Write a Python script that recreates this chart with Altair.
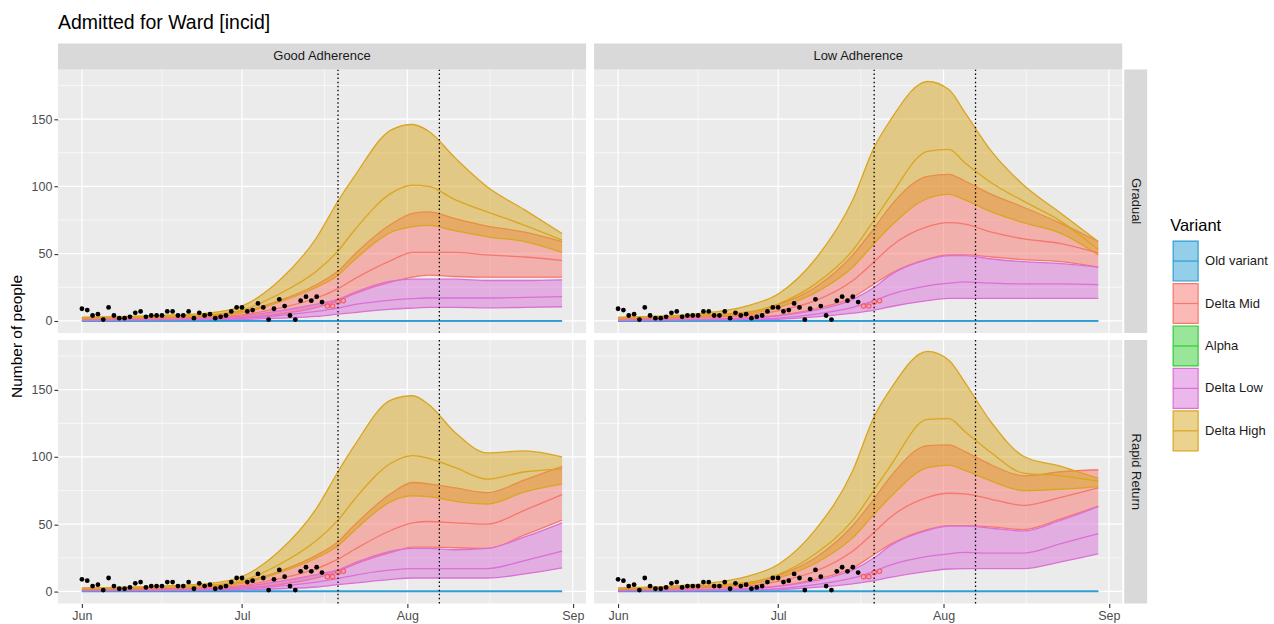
import altair as alt
import pandas as pd

TITLE = "Admitted for Ward [incid]"
Y_TITLE = "Number of people"
LEGEND_TITLE = "Variant"
ADHERENCE = ["Good Adherence", "Low Adherence"]
ROLLOUT = ["Gradual", "Rapid Return"]
VARIANTS = ["Old variant", "Delta Mid", "Alpha", "Delta Low", "Delta High"]
VARIANT_COLORS = ["#2C9ED4", "#F8766D", "#33CC33", "#DA70D6", "#DAA520"]

MODEL_DATES = ["2021-06-01", "2021-06-15", "2021-06-25", "2021-07-01", "2021-07-08",
               "2021-07-15", "2021-07-19", "2021-07-22", "2021-07-29", "2021-08-02",
               "2021-08-05", "2021-08-10", "2021-08-16", "2021-08-23", "2021-08-30"]

OLD_VARIANT = [0, 0, 0, 0, 0, 0, 0, 0, 0, 0, 0, 0, 0, 0, 0]

# Good Adherence / Gradual
GG_HIGH_LO = [1.5, 2.5, 3.5, 6, 14, 25, 34, 45, 66, 70, 71, 67, 62.5, 59, 51]
GG_HIGH_MED = [2, 3, 4.5, 8, 20, 37, 52, 67, 95, 101, 100, 90, 81, 71, 60]
GG_HIGH_UP = [2.5, 4, 6, 11, 30, 62, 89, 107, 142, 146, 141, 121, 99.5, 82.5, 65]
GG_MID_LO = [0.5, 1, 1.5, 2.5, 5, 10, 15, 20, 29, 32.5, 34, 33, 32.5, 32.5, 32.5]
GG_MID_MED = [1.5, 2, 3, 4.5, 9.5, 17, 24, 31, 45, 51, 51, 51, 49, 47.5, 45]
GG_MID_UP = [2.5, 3, 4.5, 7, 15, 27, 37, 49, 72, 80, 81, 76, 70.5, 66, 59]
GG_LOW_LO = [0.2, 0.3, 0.6, 1, 2, 3.3, 5, 6.2, 8.7, 9.5, 10, 10, 9.7, 10, 10.5]
GG_LOW_MED = [0.4, 0.7, 1.1, 1.8, 4, 7, 9.5, 12, 15.5, 16.5, 17, 17, 17, 17.5, 18]
GG_LOW_UP = [0.8, 1.2, 2.2, 3.5, 7.5, 12.5, 16, 21, 29.5, 31, 31, 31, 30, 30, 30.5]

# Low Adherence / Gradual
LG_HIGH_LO = [1.5, 3, 5, 10, 21, 40, 57.5, 70, 91, 94, 90, 81, 73, 65, 49]
LG_HIGH_MED = [2, 3.5, 6, 12.5, 27.5, 52.5, 75, 92.5, 126, 127.5, 117.5, 102.5, 89, 74, 53]
LG_HIGH_UP = [2.5, 5, 11, 20, 46, 90, 129, 149, 178, 172, 155, 126, 101, 80, 59]
LG_MID_LO = [0.5, 1, 2.2, 4, 9, 17.5, 27.5, 35, 46, 49, 49, 47.5, 45.5, 44, 40]
LG_MID_MED = [1.5, 2.5, 4, 7.5, 15, 30, 44, 55, 70, 73, 72, 66, 61, 57.5, 50.5]
LG_MID_UP = [2.5, 4, 6.5, 12, 25, 49, 69, 85, 107.5, 109, 104, 94, 84.5, 72.5, 59]
LG_LOW_LO = [0.2, 0.3, 0.7, 1.2, 3, 5.7, 8, 10.5, 15, 16.7, 16.7, 16.7, 16.7, 16.7, 16.7]
LG_LOW_MED = [0.4, 0.7, 1.1, 2, 5, 10, 15, 19.5, 26, 28, 29, 28, 27.5, 27.5, 27]
LG_LOW_UP = [0.8, 1.2, 2, 3.7, 8, 16, 25, 34, 45.5, 48.5, 48.5, 46, 44, 42.5, 40]

# Good Adherence / Rapid Return
GR_HIGH_LO = [1.5, 2.5, 3.5, 6, 14, 25, 34, 45, 67, 71, 70.5, 67, 65, 74, 80]
GR_HIGH_MED = [2, 3, 4.5, 8, 20, 38, 53, 68, 95.5, 101, 99, 92, 83.5, 89, 91]
GR_HIGH_UP = [2.5, 4, 6, 11, 30, 62, 89, 108, 142.5, 145.5, 139, 118, 103, 104.5, 100]
GR_MID_LO = [0.5, 1, 1.5, 2.5, 5, 10, 15, 20, 29, 33, 33, 32.5, 32, 42, 53]
GR_MID_MED = [1.5, 2, 3, 4.5, 9.5, 17, 24, 31, 45.5, 51, 52, 51, 50, 60.5, 72]
GR_MID_UP = [2.5, 3, 4.5, 7, 15, 27, 37, 49, 73, 81, 80, 77, 73.5, 83, 93]
GR_LOW_LO = [0.2, 0.3, 0.6, 1, 2, 3.3, 5, 6.2, 9, 10, 10, 10, 10, 13, 17.5]
GR_LOW_MED = [0.4, 0.7, 1.1, 1.8, 4, 7, 9.5, 12, 16, 17, 17, 17, 17, 23, 30]
GR_LOW_UP = [0.8, 1.2, 2.2, 3.5, 7.5, 12.5, 16, 21, 30, 32, 32, 31, 32, 40.5, 51]

# Low Adherence / Rapid Return
LR_HIGH_LO = [1.5, 3, 5, 10, 21, 40, 57.5, 70, 92, 94, 90, 82, 75, 76, 78]
LR_HIGH_MED = [2, 3.5, 6, 12.5, 28, 53, 75.5, 93, 128, 128.5, 119, 103, 88, 86, 82]
LR_HIGH_UP = [2.5, 5, 11, 20, 46, 90, 130, 150, 178.5, 172, 155.5, 125.5, 100.5, 93, 84]
LR_MID_LO = [0.5, 1, 2.2, 4, 9, 17.5, 27.5, 35, 46, 49, 49, 48, 46, 54, 63.5]
LR_MID_MED = [1.5, 2.5, 4, 7.5, 15, 30, 44, 55, 70, 73, 72.5, 68.5, 64, 70, 77]
LR_MID_UP = [2.5, 4, 6.5, 12, 25, 49, 69, 85, 108.5, 109, 104, 94, 86, 89, 90.5]
LR_LOW_LO = [0.2, 0.3, 0.7, 1.2, 3, 5.7, 8, 10.5, 15, 16.7, 17, 17, 17, 22, 28]
LR_LOW_MED = [0.4, 0.7, 1.1, 2, 5, 10, 15, 19.5, 26, 28, 29, 28.5, 28.5, 35.5, 43]
LR_LOW_UP = [0.8, 1.2, 2, 3.7, 8, 16, 25, 34, 45.5, 48.5, 48.5, 47, 45, 53, 63]

# observed daily admissions (1 Jun - 16 Jul) and provisional ones (17 - 20 Jul)
OBS_START = "2021-06-01"
OBS_COUNTS = [9, 8, 4, 5, 1, 10, 4, 2, 2, 3, 6, 7, 3, 4, 4, 4, 7, 7, 4, 4, 7, 2, 6, 4,
              5, 2, 3, 4, 7, 10, 10, 7, 8, 13, 10, 1, 9, 16, 11, 4, 1, 15, 18, 15, 18, 14]
PROV_DATES = ["2021-07-17", "2021-07-18", "2021-07-19", "2021-07-20"]
PROV_COUNTS = [11, 11, 14, 15]

POLICY_DATES = ["2021-07-19", "2021-08-07"]
X_MAJOR = ["2021-06-01", "2021-07-01", "2021-08-01", "2021-09-01"]
X_MINOR = ["2021-06-16", "2021-07-16T12:00:00", "2021-08-16T12:00:00"]
Y_MAJOR = [0, 50, 100, 150]
Y_MINOR = [25, 75, 125, 175]

PANEL_SERIES = {
    ("Good Adherence", "Gradual"): {
        "Old variant": (OLD_VARIANT, OLD_VARIANT, OLD_VARIANT),
        "Delta Mid": (GG_MID_LO, GG_MID_MED, GG_MID_UP),
        "Delta Low": (GG_LOW_LO, GG_LOW_MED, GG_LOW_UP),
        "Delta High": (GG_HIGH_LO, GG_HIGH_MED, GG_HIGH_UP)},
    ("Low Adherence", "Gradual"): {
        "Old variant": (OLD_VARIANT, OLD_VARIANT, OLD_VARIANT),
        "Delta Mid": (LG_MID_LO, LG_MID_MED, LG_MID_UP),
        "Delta Low": (LG_LOW_LO, LG_LOW_MED, LG_LOW_UP),
        "Delta High": (LG_HIGH_LO, LG_HIGH_MED, LG_HIGH_UP)},
    ("Good Adherence", "Rapid Return"): {
        "Old variant": (OLD_VARIANT, OLD_VARIANT, OLD_VARIANT),
        "Delta Mid": (GR_MID_LO, GR_MID_MED, GR_MID_UP),
        "Delta Low": (GR_LOW_LO, GR_LOW_MED, GR_LOW_UP),
        "Delta High": (GR_HIGH_LO, GR_HIGH_MED, GR_HIGH_UP)},
    ("Low Adherence", "Rapid Return"): {
        "Old variant": (OLD_VARIANT, OLD_VARIANT, OLD_VARIANT),
        "Delta Mid": (LR_MID_LO, LR_MID_MED, LR_MID_UP),
        "Delta Low": (LR_LOW_LO, LR_LOW_MED, LR_LOW_UP),
        "Delta High": (LR_HIGH_LO, LR_HIGH_MED, LR_HIGH_UP)},
}

# ---------------------------------------------------------------- tables
rows = []
for (adh, roll), series in PANEL_SERIES.items():
    for variant, (lo, med, hi) in series.items():
        for d, a, b, c in zip(MODEL_DATES, lo, med, hi):
            rows.append({"adherence": adh, "rollout": roll, "variant": variant,
                         "date": d + "T00:00:00", "lo": a, "med": b, "hi": c})
band_df = pd.DataFrame(rows)


def stamp(d):
    return d if "T" in d else d + "T00:00:00"


obs_dates = pd.date_range(OBS_START, periods=len(OBS_COUNTS), freq="D")
obs_df = pd.DataFrame({"date": obs_dates.strftime("%Y-%m-%dT%H:%M:%S"), "count": OBS_COUNTS})
prov_df = pd.DataFrame({"date": [stamp(d) for d in PROV_DATES], "count": PROV_COUNTS})
policy_df = pd.DataFrame({"date": [stamp(d) for d in POLICY_DATES]})
xmaj_df = pd.DataFrame({"date": [stamp(d) for d in X_MAJOR]})
xmin_df = pd.DataFrame({"date": [stamp(d) for d in X_MINOR]})
ymaj_df = pd.DataFrame({"v": Y_MAJOR})
ymin_df = pd.DataFrame({"v": Y_MINOR})
color_of = dict(zip(VARIANTS, VARIANT_COLORS))
DRAW_ORDER = ["Old variant", "Delta Mid", "Delta Low", "Delta High"]

# ---------------------------------------------------------------- layout
FONT = "Liberation Sans"
W, H, STRIP, GAP_X, GAP_Y, RSTRIP = 529, 264, 26, 8, 7, 24
XS = alt.Scale(domain=[alt.DateTime(year=2021, month=5, date=27, hours=12),
                       alt.DateTime(year=2021, month=9, date=3, hours=12)], nice=False)
YS = alt.Scale(domain=[-9, 187], nice=False, zero=False)

X_AXIS = alt.Axis(values=[alt.DateTime(year=2021, month=m, date=1) for m in (6, 7, 8, 9)],
                  format="%b", labelFontSize=12.5, labelColor="#4D4D4D", tickColor="#333333",
                  tickSize=4, tickWidth=1.1, domain=False, grid=False, labelPadding=2,
                  labelFlush=False, labelOverlap=False, title=None)
Y_AXIS = alt.Axis(values=Y_MAJOR, labelFontSize=12.5, labelColor="#4D4D4D", tickColor="#333333",
                  tickSize=4, tickWidth=1.1, domain=False, grid=False, labelPadding=2,
                  labelFlush=False, labelOverlap=False, title=None)


def one(label):
    return alt.Chart(pd.DataFrame({"t": [label]}))


def panel(adh, roll, show_x, show_y, top_strip, right_strip, ytitle):
    xa = X_AXIS if show_x else None
    ya = Y_AXIS if show_y else None

    def X(f):
        return alt.X(f, type="temporal", scale=XS, axis=xa, title=None)

    def Y(f):
        return alt.Y(f, type="quantitative", scale=YS, axis=ya, title=None)

    layers = [
        alt.Chart(ymin_df).mark_rule(color="white", strokeWidth=0.6).encode(y=Y("v")),
        alt.Chart(ymaj_df).mark_rule(color="white", strokeWidth=1.2).encode(y=Y("v")),
        alt.Chart(xmin_df).mark_rule(color="white", strokeWidth=0.6).encode(x=X("date")),
        alt.Chart(xmaj_df).mark_rule(color="white", strokeWidth=1.2).encode(x=X("date")),
    ]
    meds = []
    for v in DRAW_ORDER:
        c = color_of[v]
        base = alt.Chart(band_df).transform_filter(
            f"datum.adherence == '{adh}' && datum.rollout == '{roll}' && datum.variant == '{v}'")
        if v != "Old variant":
            layers.append(base.mark_area(color=c, opacity=0.5, interpolate="monotone").encode(
                x=X("date"), y=Y("lo"), y2=alt.Y2("hi")))
        layers.append(base.mark_line(color=c, strokeWidth=1.3, interpolate="monotone").encode(
            x=X("date"), y=Y("lo")))
        layers.append(base.mark_line(color=c, strokeWidth=1.3, interpolate="monotone").encode(
            x=X("date"), y=Y("hi")))
        meds.append(base.mark_line(color=c, strokeWidth=1.3 if v != "Old variant" else 1.8,
                                   interpolate="monotone").encode(x=X("date"), y=Y("med")))
    layers += meds
    layers.append(alt.Chart(obs_df).mark_circle(color="black", size=23, opacity=1).encode(
        x=X("date"), y=Y("count")))
    layers.append(alt.Chart(prov_df).mark_point(shape="circle", filled=True, fill="#F7A1A8",
                                               stroke="#F25A6C", strokeWidth=1.1, size=20,
                                               opacity=1).encode(x=X("date"), y=Y("count")))
    layers.append(alt.Chart(policy_df).mark_rule(color="black", strokeDash=[1.5, 2.6],
                                                 strokeWidth=1.3).encode(x=X("date")))
    if top_strip:
        layers.append(one(top_strip).mark_rect(color="#D9D9D9").encode(
            x=alt.value(0), x2=alt.value(W), y=alt.value(-STRIP), y2=alt.value(0)))
        layers.append(one(top_strip).mark_text(fontSize=13, color="#1A1A1A",
                                               baseline="middle").encode(
            x=alt.value(W / 2), y=alt.value(-STRIP / 2), text="t:N"))
    if right_strip:
        layers.append(one(right_strip).mark_rect(color="#D9D9D9").encode(
            x=alt.value(W + 2), x2=alt.value(W + 1 + RSTRIP), y=alt.value(0), y2=alt.value(H)))
        layers.append(one(right_strip).mark_text(fontSize=13, color="#1A1A1A", angle=90,
                                                 baseline="middle").encode(
            x=alt.value(W + 1.5 + RSTRIP / 2), y=alt.value(H / 2), text="t:N"))
    if ytitle:
        layers.append(one(Y_TITLE).mark_text(
            angle=270, fontSize=15.5, color="black", align="center", baseline="middle").encode(
            x=alt.value(-41), y=alt.value(H + GAP_Y / 2), text="t:N"))
    return alt.layer(*layers).properties(
        width=W, height=H, view=alt.ViewBackground(fill="#EBEBEB", stroke=None))


# ---------------------------------------------------------------- legend
legend_df = pd.DataFrame({"variant": VARIANTS, "color": VARIANT_COLORS})
LX = 1175 - (58 + W + GAP_X + W + GAP_X)   # key left edge inside the legend column
key_scale = alt.Scale(domain=VARIANTS, range=[172, 382], paddingInner=0.06, paddingOuter=0)
lbase = alt.Chart(legend_df)
keys = lbase.mark_rect(fillOpacity=0.5, strokeWidth=1.2).encode(
    y=alt.Y("variant:N", scale=key_scale, axis=None),
    x=alt.value(LX), x2=alt.value(LX + 25),
    fill=alt.Fill("color:N", scale=None), stroke=alt.Stroke("color:N", scale=None))
mids = lbase.mark_rule(strokeWidth=1.2).encode(
    y=alt.Y("variant:N", scale=key_scale, axis=None, bandPosition=0.5),
    x=alt.value(LX), x2=alt.value(LX + 25), color=alt.Color("color:N", scale=None))
labels = lbase.mark_text(align="left", baseline="middle", fontSize=13, color="#1A1A1A").encode(
    y=alt.Y("variant:N", scale=key_scale, axis=None, bandPosition=0.5),
    x=alt.value(LX + 32), text="variant:N")
ltitle = one(LEGEND_TITLE).mark_text(
    align="left", baseline="middle", fontSize=16.5, color="black").encode(
    x=alt.value(LX - 3), y=alt.value(157), text="t:N")
legend = alt.layer(keys, mids, labels, ltitle).properties(
    width=110, height=H, view=alt.ViewBackground(fill="transparent", stroke="transparent"))

TL = panel(ADHERENCE[0], ROLLOUT[0], False, True, ADHERENCE[0], None, True)
TR = panel(ADHERENCE[1], ROLLOUT[0], False, False, ADHERENCE[1], ROLLOUT[0], False)
BL = panel(ADHERENCE[0], ROLLOUT[1], True, True, None, None, False)
BR = panel(ADHERENCE[1], ROLLOUT[1], True, False, None, ROLLOUT[1], False)

chart = alt.concat(TL, TR, legend, BL, BR, columns=3,
                   spacing={"row": GAP_Y, "column": GAP_X}, bounds="flush").properties(
    title=alt.TitleParams(TITLE, anchor="start", fontSize=19.5, fontWeight="normal",
                          color="black", offset=10, frame="group"),
    padding={"left": 10, "top": 12, "right": 5, "bottom": 5},
).configure_view(stroke=None).configure(font=FONT)

chart.save("out.html", embed_options={"renderer": "svg", "actions": False})
